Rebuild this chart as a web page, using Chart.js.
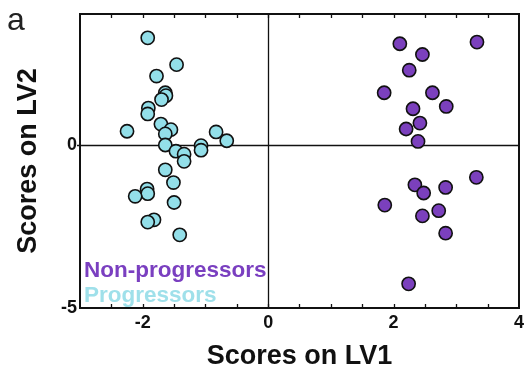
<!DOCTYPE html>
<html>
<head>
<meta charset="utf-8">
<script src="https://cdn.jsdelivr.net/npm/chart.js@4"></script>
<style>
  html, body { margin: 0; padding: 0; background: #fff; }
  #wrap { position: relative; width: 528px; height: 385px; }
</style>
</head>
<body>
<div id="wrap"><canvas id="chart"></canvas></div>
<script>
// PLS-DA score plot, panel a

const FONT = '"Liberation Sans", Arial, sans-serif';

const SERIES_LABELS = ['Non-progressors', 'Progressors'];
const SERIES_COLORS = ['#7b40bd', '#93dfe9'];
const LABEL_COLORS = ['#7a3fc0', '#9fe0ea'];

// Non-progressors (purple)
const nonX = [2.10, 3.33, 2.46, 2.25, 1.85, 2.62, 2.84, 2.31, 2.42, 2.20,
              2.39, 3.32, 2.34, 2.83, 2.48, 1.86, 2.72, 2.46, 2.83, 2.24];
const nonY = [3.09, 3.14, 2.76, 2.28, 1.59, 1.59, 1.17, 1.10, 0.66, 0.48,
              0.10, -1.00, -1.23, -1.31, -1.48, -1.85, -2.02, -2.18, -2.71, -4.26];

// Progressors (cyan)
const progX = [-1.92, -1.46, -1.78, -1.64, -1.63, -1.70, -1.91, -1.92, -2.25, -1.71,
               -1.55, -1.64, -0.83, -0.66, -1.64, -1.47, -1.34, -1.34, -1.07, -1.07,
               -1.64, -1.51, -1.93, -1.92, -2.12, -1.50, -1.82, -1.92, -1.41];
const progY = [3.27, 2.45, 2.10, 1.59, 1.50, 1.38, 1.12, 0.94, 0.41, 0.63,
               0.46, 0.33, 0.39, 0.12, -0.01, -0.20, -0.29, -0.51, -0.03, -0.17,
               -0.77, -1.16, -1.36, -1.50, -1.58, -1.77, -2.30, -2.37, -2.76];

const xTicks = [-2, 0, 2, 4];
const yTicks = [-5, 0];
const X_MIN = -3, X_MAX = 4, Y_MIN = -5, Y_MAX = 4;
const MINOR_STEP = 0.5;

function pts(xs, ys) {
  return xs.map((x, i) => ({ x, y: ys[i] }));
}

// box, zero lines, inward minor ticks, in-plot legend, panel letter
const decor = {
  id: 'decor',
  beforeDatasetsDraw(chart) {
    const { ctx, chartArea: a, scales: { x, y } } = chart;
    ctx.save();
    ctx.strokeStyle = '#111';
    ctx.lineWidth = 1.3;
    ctx.beginPath();
    const x0 = Math.round(x.getPixelForValue(0)) + 0.5;
    const y0 = Math.round(y.getPixelForValue(0)) + 0.5;
    ctx.moveTo(x0, a.top); ctx.lineTo(x0, a.bottom);
    ctx.moveTo(a.left - 3, y0); ctx.lineTo(a.right, y0);
    ctx.stroke();
    ctx.restore();
  },
  afterDatasetsDraw(chart) {
    const { ctx, chartArea: a, scales: { x } } = chart;
    ctx.save();
    ctx.strokeStyle = '#111';
    ctx.lineWidth = 2;
    ctx.strokeRect(a.left, a.top, a.right - a.left, a.bottom - a.top);

    ctx.lineWidth = 1.3;
    ctx.beginPath();
    for (let v = X_MIN + MINOR_STEP; v < X_MAX; v += MINOR_STEP) {
      const px = Math.round(x.getPixelForValue(v)) + 0.5;
      ctx.moveTo(px, a.top); ctx.lineTo(px, a.top + 4);
      ctx.moveTo(px, a.bottom); ctx.lineTo(px, a.bottom - 4);
    }
    ctx.stroke();

    ctx.font = 'bold 22.5px ' + FONT;
    ctx.textBaseline = 'alphabetic';
    ctx.textAlign = 'left';
    ctx.fillStyle = LABEL_COLORS[0];
    ctx.fillText(SERIES_LABELS[0], a.left + 4, 277);
    ctx.fillStyle = LABEL_COLORS[1];
    ctx.fillText(SERIES_LABELS[1], a.left + 4, 302);

    ctx.fillStyle = '#222';
    ctx.font = '32px ' + FONT;
    ctx.fillText('a', 7, 30);
    ctx.restore();
  }
};

new Chart(document.getElementById('chart'), {
  type: 'scatter',
  data: {
    datasets: [
      {
        label: SERIES_LABELS[0],
        data: pts(nonX, nonY),
        backgroundColor: SERIES_COLORS[0],
        borderColor: '#111',
        borderWidth: 1.6,
        pointRadius: 6.6
      },
      {
        label: SERIES_LABELS[1],
        data: pts(progX, progY),
        backgroundColor: SERIES_COLORS[1],
        borderColor: '#111',
        borderWidth: 1.6,
        pointRadius: 6.6
      }
    ]
  },
  options: {
    responsive: true,
    maintainAspectRatio: false,
    animation: false,
    layout: { padding: { top: 14, right: 9, left: 0, bottom: 0 } },
    plugins: { legend: { display: false }, tooltip: { enabled: false } },
    scales: {
      x: {
        type: 'linear', min: X_MIN, max: X_MAX,
        afterBuildTicks: s => { s.ticks = xTicks.map(v => ({ value: v })); },
        afterFit: s => { s.height = 77; },
        grid: { display: false, drawTicks: false },
        border: { display: false },
        ticks: {
          color: '#111', padding: 4, maxRotation: 0,
          font: { family: FONT, size: 18, weight: 'bold' }
        },
        title: {
          display: true, text: 'Scores on LV1', color: '#111',
          padding: { top: 0, bottom: 12 },
          font: { family: FONT, size: 27, weight: 'bold' }
        }
      },
      y: {
        type: 'linear', min: Y_MIN, max: Y_MAX,
        afterBuildTicks: s => { s.ticks = yTicks.map(v => ({ value: v })); },
        afterFit: s => { s.width = 80; },
        grid: { display: false, drawTicks: false },
        border: { display: false },
        ticks: {
          color: '#111', padding: 3,
          font: { family: FONT, size: 18, weight: 'bold' }
        },
        title: {
          display: true, text: 'Scores on LV2', color: '#111',
          padding: { top: 12, bottom: 0 },
          font: { family: FONT, size: 27, weight: 'bold' }
        }
      }
    }
  },
  plugins: [decor]
});
</script>
</body>
</html>
